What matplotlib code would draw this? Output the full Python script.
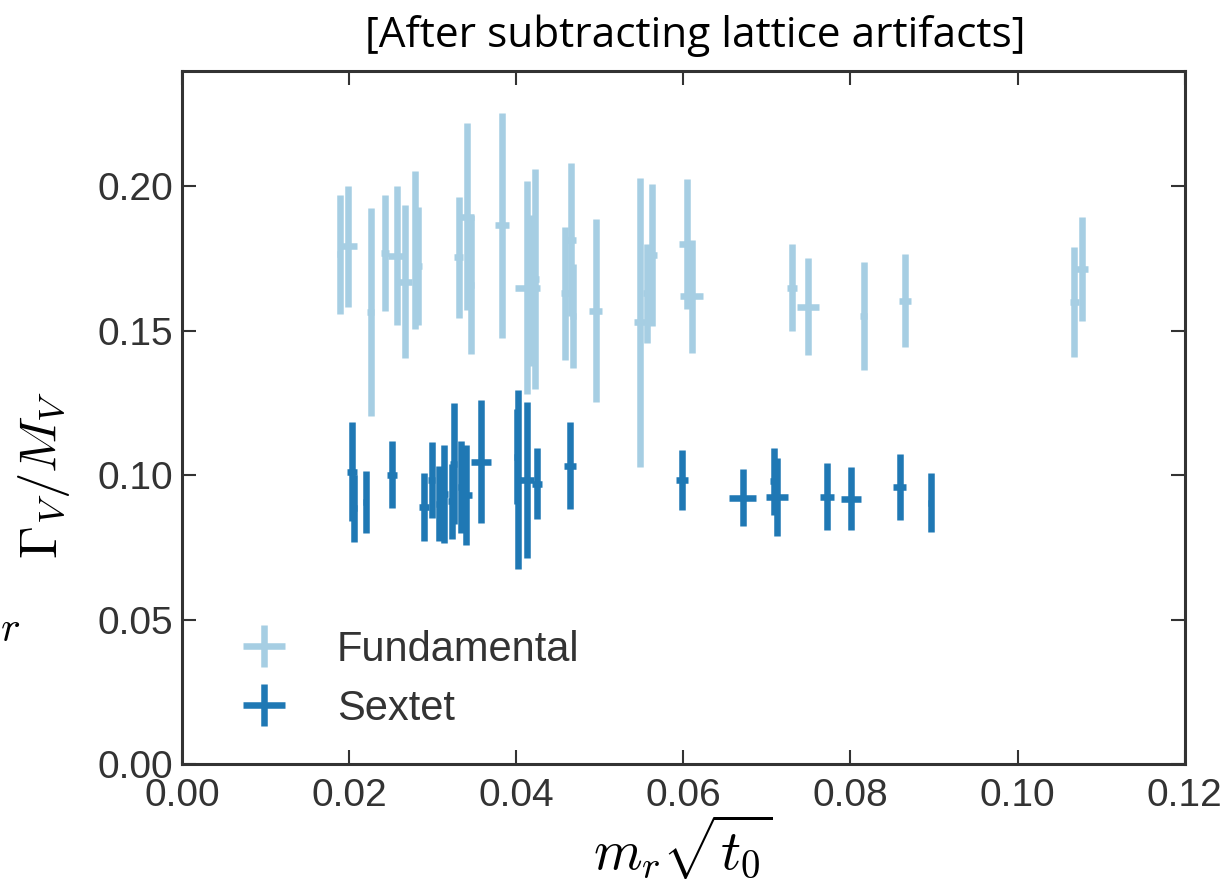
import numpy as np
import matplotlib
matplotlib.use('Agg')
import matplotlib.pyplot as plt

# Fundamental representation: x, y, y error, x error
fund_x = [0.0189, 0.0199, 0.0226, 0.0243, 0.0257, 0.0267, 0.0279, 0.0283, 0.0331, 0.0341,
          0.0346, 0.0383, 0.0413, 0.0418, 0.0423, 0.0459, 0.0465, 0.0468, 0.0495, 0.0548,
          0.0556, 0.0563, 0.0604, 0.0610, 0.0730, 0.0749, 0.0816, 0.0865, 0.1068, 0.1077]
fund_y = [0.1765, 0.1793, 0.1564, 0.1770, 0.1760, 0.1670, 0.1780, 0.1725, 0.1755, 0.1896,
          0.1660, 0.1865, 0.1650, 0.1640, 0.1680, 0.1630, 0.1816, 0.1550, 0.1570, 0.1530,
          0.1630, 0.1762, 0.1800, 0.1620, 0.1650, 0.1584, 0.1550, 0.1605, 0.1600, 0.1713]
fund_yerr = [0.0205, 0.0210, 0.0360, 0.0200, 0.0240, 0.0265, 0.0275, 0.0205, 0.0210, 0.0325,
             0.0240, 0.0390, 0.0370, 0.0260, 0.0380, 0.0230, 0.0265, 0.0180, 0.0317, 0.0500,
             0.0172, 0.0245, 0.0225, 0.0195, 0.0150, 0.0168, 0.0187, 0.0160, 0.0190, 0.0180]
fund_xerr = [0.0003, 0.0010, 0.0004, 0.0005, 0.0010, 0.0008, 0.0003, 0.0004, 0.0005, 0.0008,
             0.0004, 0.0008, 0.0015, 0.0004, 0.0004, 0.0005, 0.0006, 0.0004, 0.0008, 0.0007,
             0.0004, 0.0005, 0.0009, 0.0014, 0.0006, 0.0013, 0.0004, 0.0007, 0.0005, 0.0007]

# Sextet representation
sext_x = [0.0203, 0.0206, 0.0220, 0.0251, 0.0290, 0.0299, 0.0308, 0.0314, 0.0323, 0.0325,
          0.0334, 0.0340, 0.0358, 0.0402, 0.0401, 0.0413, 0.0425, 0.0464, 0.0598, 0.0671,
          0.0708, 0.0712, 0.0772, 0.0801, 0.0859, 0.0896]
sext_y = [0.1012, 0.0886, 0.0908, 0.1002, 0.0891, 0.0984, 0.0902, 0.0936, 0.0910, 0.1040,
          0.0960, 0.0932, 0.1047, 0.0984, 0.1064, 0.0984, 0.0971, 0.1033, 0.0984, 0.0923,
          0.0979, 0.0925, 0.0926, 0.0918, 0.0960, 0.0905]
sext_yerr = [0.0172, 0.0116, 0.0107, 0.0115, 0.0118, 0.0132, 0.0131, 0.0170, 0.0130, 0.0210,
             0.0160, 0.0172, 0.0213, 0.0310, 0.0165, 0.0269, 0.0123, 0.0150, 0.0104, 0.0099,
             0.0116, 0.0135, 0.0117, 0.0109, 0.0114, 0.0103]
sext_xerr = [0.0006, 0.0004, 0.0003, 0.0006, 0.0006, 0.0004, 0.0004, 0.0004, 0.0004, 0.0004,
             0.0004, 0.0007, 0.0012, 0.0004, 0.0004, 0.0008, 0.0006, 0.0007, 0.0007, 0.0016,
             0.0004, 0.0013, 0.0008, 0.0012, 0.0008, 0.0003]

light_blue = '#a6cee3'
dark_blue = '#1f78b4'
grey = '#333333'

plt.rcParams['font.family'] = ['Liberation Sans', 'DejaVu Sans']
plt.rcParams['mathtext.fontset'] = 'cm'

fig = plt.figure(figsize=(12.29, 8.84), dpi=100)
ax = fig.add_axes([0.148, 0.1357, 0.816, 0.784])

ax.errorbar(fund_x, fund_y, yerr=fund_yerr, xerr=fund_xerr, fmt='none',
            ecolor=light_blue, elinewidth=4.7, capsize=0, label='Fundamental')
ax.errorbar(sext_x, sext_y, yerr=sext_yerr, xerr=sext_xerr, fmt='none',
            ecolor=dark_blue, elinewidth=4.7, capsize=0, label='Sextet')

ax.set_xlim(0, 0.12)
ax.set_ylim(0, 0.24)
ax.set_xticks(np.arange(0, 0.121, 0.02))
ax.set_yticks(np.arange(0, 0.201, 0.05))
ax.set_xticklabels(['%.2f' % t for t in np.arange(0, 0.121, 0.02)])
ax.set_yticklabels(['%.2f' % t for t in np.arange(0, 0.201, 0.05)])

for s in ax.spines.values():
    s.set_color(grey)
    s.set_linewidth(2.2)
ax.tick_params(direction='in', length=10, width=1.5, color=grey, labelcolor=grey,
               labelsize=28, top=True, right=True)
ax.tick_params(axis='x', pad=10)
ax.tick_params(axis='y', pad=6)

ax.set_xlabel(r'$m_r\sqrt{t_0}$', fontsize=40, va='center')
ax.xaxis.set_label_coords(0.5, -0.12)
ax.set_ylabel(r'$\Gamma_V/M_V$', fontsize=38, va='center')
ax.yaxis.set_label_coords(-0.137, 0.417)

leg = ax.legend(loc='lower left', bbox_to_anchor=(0.013, -0.003), frameon=False, fontsize=30,
                handlelength=1.5, handletextpad=1.0, labelspacing=0.45)
for t in leg.get_texts():
    t.set_color(grey)

fig.text(0.566, 0.96, '[After subtracting lattice artifacts]', ha='center', va='center',
         fontsize=30.5, family='Open Sans', color='black')
# cropped fragment at left edge
fig.text(0.0, 0.287, r'$r$', fontsize=30, ha='left', va='center')

fig.savefig('out.png', dpi=100)
